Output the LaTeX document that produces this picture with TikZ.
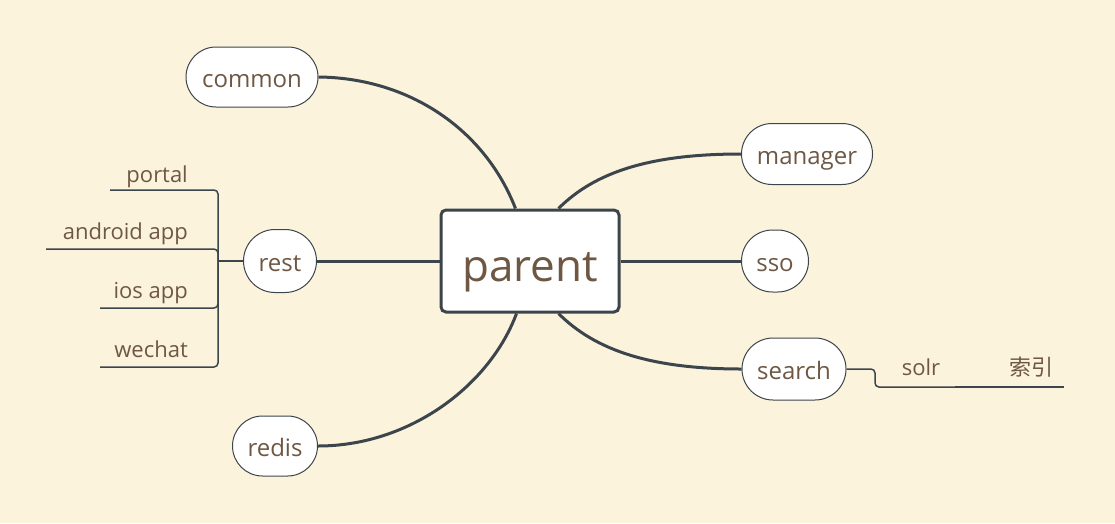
\documentclass[tikz,border=0pt]{standalone}
\usepackage{fontspec}
\setmainfont{Open Sans}
\newfontfamily\cjk{Noto Sans CJK SC}
\usetikzlibrary{shapes.misc}
\definecolor{bg}{HTML}{FBF3DC}
\definecolor{ln}{HTML}{3D454C}
\definecolor{tx}{HTML}{6E5843}
\begin{document}
\begin{tikzpicture}[x=1pt,y=-1pt,
  topic/.style={rounded rectangle, draw=ln, line width=1pt, fill=white, text=tx,
    minimum height=60pt, inner sep=0pt, text height=21pt, text depth=0pt,
    font=\fontsize{24}{28}\selectfont},
  central/.style={rectangle, rounded corners=5pt, draw=ln, line width=3pt, fill=white, text=tx,
    minimum width=178pt, minimum height=102pt, text height=40pt, text depth=0pt,
    font=\fontsize{44}{50}\selectfont},
  subt/.style={text=tx, inner sep=0pt, font=\fontsize{22}{26}\selectfont},
  mainline/.style={draw=ln, line width=3pt},
  subline/.style={draw=ln, line width=1.5pt, rounded corners=4pt}]
\fill[bg] (0,0) rectangle (1115,523);
\useasboundingbox (0,0) rectangle (1115,523);

\node[central] (parent) at (530,261) {parent};
\node[topic, minimum width=132pt] (common) at (252,77) {common};
\node[topic, minimum width=131pt, minimum height=61pt] (manager) at (807,154) {manager};
\node[topic, minimum width=67pt, minimum height=62pt] (sso) at (775,261) {sso};
\node[topic, minimum width=104pt, minimum height=62pt] (search) at (794,369) {search};
\node[topic, minimum width=73pt, minimum height=63pt] (rest) at (280,261) {rest};
\node[topic, minimum width=85pt] (redis) at (275,446) {redis};

% main connectors
\draw[mainline] ([xshift=76pt]parent.north west) .. controls (485,130) and (410,78) .. (common.east);
\draw[mainline] ([xshift=119pt]parent.north west) .. controls (595,172) and (650,154) .. (manager.west);
\draw[mainline] (parent.east) -- (sso.west);
\draw[mainline] ([xshift=119pt]parent.south west) .. controls (595,350) and (650,369) .. (search.west);
\draw[mainline] ([xshift=77pt]parent.south west) .. controls (490,385) and (410,446) .. (redis.east);
\draw[mainline] (parent.west) -- (rest.east);

% rest subtree
\coordinate (rj) at (218,261);
\node[subt, anchor=base east] (portal) at (188,182) {portal};
\node[subt, anchor=base east] (android) at (188,239) {android app};
\node[subt, anchor=base east] (ios) at (188,298) {ios app};
\node[subt, anchor=base east] (wechat) at (188,357) {wechat};
\draw[subline] (rest.west) -- (rj);
\draw[subline] (110,190) -- (218,190) -- (218,367) -- (100,367);
\draw[subline] (46,249) -- (218,249) -- (rj);
\draw[subline] (100,308) -- (218,308) -- (rj);

% search subtree
\node[subt, anchor=base] (solr) at (921,375) {solr};
\node[subt, anchor=base] (suoyin) at (1031,375) {\cjk 索引};
\draw[subline] (search.east) -- (875,369) -- (875,387) -- (955,387);
\draw[subline] (955,387) -- (1064,387);
\end{tikzpicture}
\end{document}
